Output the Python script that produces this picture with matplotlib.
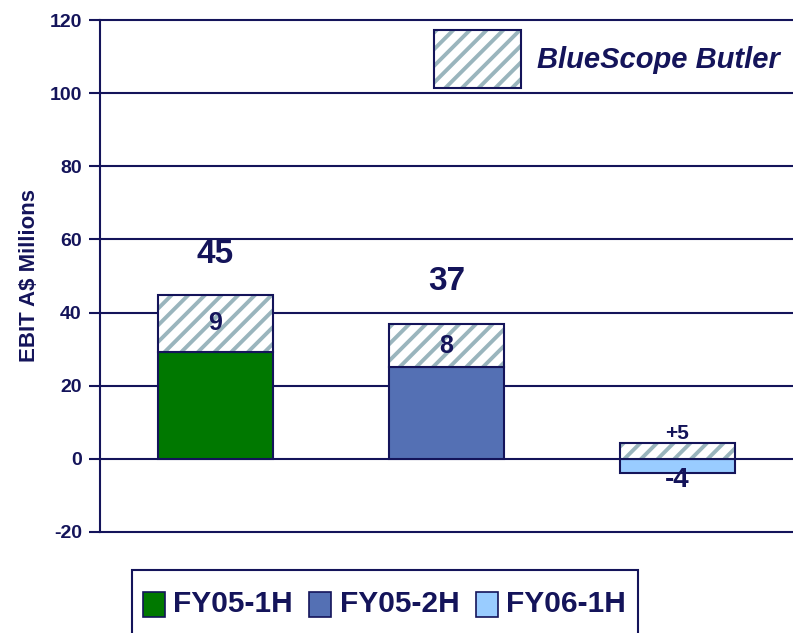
import matplotlib
matplotlib.use("Agg")
import matplotlib.pyplot as plt
from matplotlib.patches import Rectangle

# data
periods = ["FY05-1H", "FY05-2H", "FY06-1H"]
core = [29.3, 25.0, -4.0]          # solid part of each bar
butler_bottom = [29.3, 25.0, 0.0]  # where the BlueScope Butler part starts
butler_top = [44.8, 36.8, 4.3]
totals = ["45", "37", "-4"]
butler_labels = ["9", "8", "+5"]
colors = ["#007800", "#5470b4", "#99ccff"]

navy = "#14145a"
hatch_col = "#9ab5bd"

plt.rcParams["font.family"] = ["Liberation Sans", "DejaVu Sans"]
plt.rcParams["font.weight"] = "bold"
plt.rcParams["hatch.linewidth"] = 2.8
plt.rcParams["axes.unicode_minus"] = False

fig = plt.figure(figsize=(7.93, 6.33), dpi=100)
ax = fig.add_axes([0.126, 0.160, 0.874, 0.808])

x = range(len(periods))
w = 0.5

# solid bars
ax.bar(x, core, width=w, color=colors, edgecolor=navy, linewidth=1.5, zorder=3)

# hatched Butler segments
heights = [t - b for t, b in zip(butler_top, butler_bottom)]
ax.bar(x, heights, bottom=butler_bottom, width=w, color="white",
       edgecolor=hatch_col, hatch="//", linewidth=0, zorder=4)
ax.bar(x, heights, bottom=butler_bottom, width=w, fill=False,
       edgecolor=navy, linewidth=1.5, zorder=5)

# value labels
total_y = [56, 48.4, -5.8]
total_fs = [24, 24, 20]
butler_y = [37.0, 30.9, 6.9]
butler_fs = [18, 18, 15]
for i in x:
    ax.text(i, total_y[i], totals[i], ha="center", va="center",
            fontsize=total_fs[i], color=navy, zorder=6)
    ax.text(i, butler_y[i], butler_labels[i], ha="center", va="center",
            fontsize=butler_fs[i], color=navy, zorder=6)

ax.set_xlim(-0.5, 2.5)
ax.set_ylim(-20, 120)
ax.set_yticks(range(-20, 121, 20))
ax.set_xticks([])
ax.yaxis.grid(True, color=navy, linewidth=1.5)
for gl in ax.get_ygridlines():
    gl.set_clip_on(False)
ax.set_axisbelow(True)
for s in ["top", "right", "bottom"]:
    ax.spines[s].set_visible(False)
ax.spines["left"].set_color(navy)
ax.spines["left"].set_linewidth(1.5)
ax.tick_params(axis="y", colors=navy, length=8, width=1.5, labelsize=14, pad=5)
ax.set_ylabel("EBIT A$ Millions", fontsize=16, fontweight="bold", color=navy,
              labelpad=7)

# BlueScope Butler key (top right)
key = Rectangle((434 / 793, 1 - 88 / 633), 87 / 793, 58 / 633,
                transform=fig.transFigure, facecolor="white",
                edgecolor=hatch_col, hatch="//", linewidth=0)
fig.add_artist(key)
fig.add_artist(Rectangle((434 / 793, 1 - 88 / 633), 87 / 793, 58 / 633,
                         transform=fig.transFigure, fill=False,
                         edgecolor=navy, linewidth=1.5))
fig.text(537 / 793, 1 - 60 / 633, "BlueScope Butler", fontsize=21,
         fontstyle="italic", color=navy, ha="left", va="center")

# period legend (bottom), box runs off the bottom edge
fig.add_artist(Rectangle((132 / 793, -0.05), 506 / 793, 0.05 + 63 / 633,
                         transform=fig.transFigure, fill=False,
                         edgecolor=navy, linewidth=1.5))
sq_x = [143, 309, 476]
txt_x = [173, 340, 506]
for i, p in enumerate(periods):
    fig.add_artist(Rectangle((sq_x[i] / 793, 1 - 617 / 633), 22 / 793, 25 / 633,
                             transform=fig.transFigure, facecolor=colors[i],
                             edgecolor=navy, linewidth=1.2))
    fig.text(txt_x[i] / 793, 1 - 604 / 633, p, fontsize=21.5, color=navy,
             ha="left", va="center")

fig.savefig("out.png", dpi=100)
